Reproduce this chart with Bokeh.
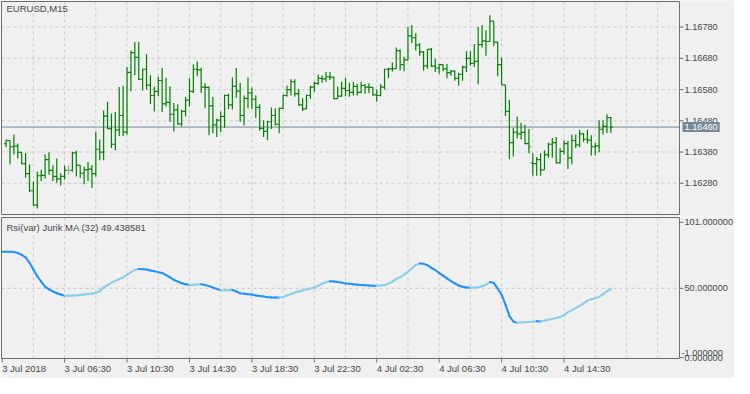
from bokeh.plotting import figure
from bokeh.models import Range1d, Label
from bokeh.core.properties import value
from bokeh.layouts import column
from bokeh.embed import file_html
from bokeh.resources import INLINE

# ---------------- data (EURUSD M15, bars 3 Jul 02:45 .. 4 Jul 17:30) ----------------
bar_index = list(range(1, 157))

open_ = [1.16407, 1.16417, 1.16397, 1.16399, 1.16379, 1.16343, 1.16311, 1.16256, 1.16210, 1.16304,
         1.16305, 1.16356, 1.16321, 1.16302, 1.16294, 1.16302, 1.16321, 1.16321, 1.16377, 1.16338,
         1.16312, 1.16323, 1.16325, 1.16311, 1.16389, 1.16380, 1.16495, 1.16455, 1.16405, 1.16451,
         1.16497, 1.16444, 1.16635, 1.16698, 1.16683, 1.16613, 1.16645, 1.16594, 1.16561, 1.16574,
         1.16609, 1.16534, 1.16539, 1.16501, 1.16515, 1.16470, 1.16510, 1.16546, 1.16574, 1.16645,
         1.16643, 1.16588, 1.16587, 1.16528, 1.16467, 1.16482, 1.16494, 1.16561, 1.16531, 1.16590,
         1.16575, 1.16497, 1.16552, 1.16569, 1.16549, 1.16523, 1.16456, 1.16446, 1.16477, 1.16497,
         1.16469, 1.16520, 1.16561, 1.16580, 1.16605, 1.16567, 1.16531, 1.16518, 1.16561, 1.16588,
         1.16600, 1.16616, 1.16614, 1.16621, 1.16620, 1.16551, 1.16559, 1.16584, 1.16577, 1.16571,
         1.16590, 1.16571, 1.16593, 1.16588, 1.16587, 1.16563, 1.16561, 1.16588, 1.16645, 1.16646,
         1.16647, 1.16705, 1.16660, 1.16675, 1.16752, 1.16746, 1.16722, 1.16701, 1.16656, 1.16709,
         1.16655, 1.16649, 1.16660, 1.16646, 1.16634, 1.16639, 1.16616, 1.16629, 1.16652, 1.16680,
         1.16664, 1.16670, 1.16724, 1.16736, 1.16734, 1.16799, 1.16732, 1.16660, 1.16595, 1.16510,
         1.16410, 1.16444, 1.16438, 1.16443, 1.16407, 1.16345, 1.16343, 1.16356, 1.16323, 1.16372,
         1.16405, 1.16410, 1.16345, 1.16382, 1.16407, 1.16361, 1.16417, 1.16403, 1.16438, 1.16421,
         1.16418, 1.16397, 1.16400, 1.16453, 1.16462, 1.16490]

high = [1.16420, 1.16417, 1.16436, 1.16407, 1.16379, 1.16377, 1.16340, 1.16286, 1.16318, 1.16323,
        1.16372, 1.16379, 1.16338, 1.16359, 1.16312, 1.16336, 1.16337, 1.16381, 1.16384, 1.16338,
        1.16333, 1.16348, 1.16338, 1.16446, 1.16420, 1.16513, 1.16541, 1.16503, 1.16508, 1.16588,
        1.16592, 1.16652, 1.16705, 1.16732, 1.16732, 1.16647, 1.16693, 1.16626, 1.16590, 1.16621,
        1.16649, 1.16618, 1.16590, 1.16537, 1.16533, 1.16515, 1.16556, 1.16616, 1.16660, 1.16670,
        1.16650, 1.16600, 1.16590, 1.16556, 1.16487, 1.16510, 1.16564, 1.16567, 1.16619, 1.16649,
        1.16602, 1.16561, 1.16619, 1.16587, 1.16561, 1.16533, 1.16482, 1.16479, 1.16523, 1.16520,
        1.16522, 1.16564, 1.16592, 1.16613, 1.16613, 1.16582, 1.16552, 1.16564, 1.16592, 1.16605,
        1.16628, 1.16626, 1.16636, 1.16636, 1.16621, 1.16590, 1.16605, 1.16618, 1.16602, 1.16605,
        1.16598, 1.16605, 1.16598, 1.16600, 1.16588, 1.16580, 1.16598, 1.16646, 1.16650, 1.16667,
        1.16715, 1.16708, 1.16685, 1.16780, 1.16787, 1.16760, 1.16729, 1.16703, 1.16710, 1.16713,
        1.16679, 1.16662, 1.16660, 1.16662, 1.16643, 1.16641, 1.16634, 1.16657, 1.16703, 1.16703,
        1.16726, 1.16780, 1.16787, 1.16770, 1.16818, 1.16799, 1.16732, 1.16683, 1.16595, 1.16547,
        1.16458, 1.16494, 1.16474, 1.16467, 1.16454, 1.16376, 1.16364, 1.16376, 1.16386, 1.16410,
        1.16425, 1.16428, 1.16392, 1.16417, 1.16415, 1.16436, 1.16436, 1.16451, 1.16441, 1.16451,
        1.16434, 1.16410, 1.16482, 1.16482, 1.16501, 1.16492]

low = [1.16395, 1.16341, 1.16372, 1.16359, 1.16341, 1.16298, 1.16251, 1.16208, 1.16199, 1.16287,
       1.16295, 1.16307, 1.16287, 1.16282, 1.16273, 1.16292, 1.16309, 1.16317, 1.16302, 1.16297,
       1.16277, 1.16287, 1.16265, 1.16302, 1.16354, 1.16354, 1.16454, 1.16393, 1.16386, 1.16431,
       1.16431, 1.16436, 1.16575, 1.16626, 1.16611, 1.16577, 1.16580, 1.16534, 1.16510, 1.16559,
       1.16508, 1.16526, 1.16477, 1.16446, 1.16467, 1.16462, 1.16494, 1.16526, 1.16569, 1.16623,
       1.16569, 1.16520, 1.16434, 1.16440, 1.16428, 1.16444, 1.16458, 1.16518, 1.16516, 1.16554,
       1.16477, 1.16465, 1.16520, 1.16518, 1.16489, 1.16448, 1.16428, 1.16418, 1.16454, 1.16465,
       1.16440, 1.16518, 1.16557, 1.16561, 1.16557, 1.16528, 1.16511, 1.16518, 1.16551, 1.16573,
       1.16595, 1.16602, 1.16605, 1.16611, 1.16549, 1.16551, 1.16557, 1.16559, 1.16557, 1.16561,
       1.16561, 1.16569, 1.16567, 1.16569, 1.16561, 1.16541, 1.16559, 1.16580, 1.16616, 1.16638,
       1.16647, 1.16641, 1.16639, 1.16674, 1.16729, 1.16705, 1.16688, 1.16641, 1.16647, 1.16652,
       1.16636, 1.16631, 1.16639, 1.16616, 1.16624, 1.16608, 1.16593, 1.16608, 1.16636, 1.16657,
       1.16652, 1.16597, 1.16715, 1.16688, 1.16732, 1.16719, 1.16623, 1.16595, 1.16495, 1.16357,
       1.16366, 1.16424, 1.16420, 1.16405, 1.16376, 1.16304, 1.16304, 1.16304, 1.16323, 1.16362,
       1.16362, 1.16343, 1.16343, 1.16372, 1.16326, 1.16341, 1.16393, 1.16395, 1.16412, 1.16407,
       1.16369, 1.16369, 1.16379, 1.16436, 1.16441, 1.16441]

close = [1.16417, 1.16397, 1.16399, 1.16379, 1.16343, 1.16311, 1.16256, 1.16210, 1.16304, 1.16305,
         1.16356, 1.16321, 1.16302, 1.16294, 1.16302, 1.16321, 1.16321, 1.16377, 1.16338, 1.16312,
         1.16323, 1.16325, 1.16311, 1.16389, 1.16380, 1.16495, 1.16455, 1.16405, 1.16451, 1.16497,
         1.16444, 1.16635, 1.16698, 1.16683, 1.16613, 1.16645, 1.16594, 1.16561, 1.16574, 1.16609,
         1.16534, 1.16539, 1.16501, 1.16515, 1.16470, 1.16510, 1.16546, 1.16574, 1.16645, 1.16643,
         1.16588, 1.16587, 1.16528, 1.16467, 1.16482, 1.16494, 1.16561, 1.16531, 1.16590, 1.16575,
         1.16497, 1.16552, 1.16569, 1.16549, 1.16523, 1.16456, 1.16446, 1.16477, 1.16497, 1.16469,
         1.16520, 1.16561, 1.16580, 1.16605, 1.16567, 1.16531, 1.16518, 1.16561, 1.16588, 1.16600,
         1.16616, 1.16614, 1.16621, 1.16620, 1.16551, 1.16559, 1.16584, 1.16577, 1.16571, 1.16590,
         1.16571, 1.16593, 1.16588, 1.16587, 1.16563, 1.16561, 1.16588, 1.16645, 1.16646, 1.16647,
         1.16705, 1.16660, 1.16675, 1.16752, 1.16746, 1.16722, 1.16701, 1.16656, 1.16709, 1.16655,
         1.16649, 1.16660, 1.16646, 1.16634, 1.16639, 1.16616, 1.16629, 1.16652, 1.16680, 1.16664,
         1.16670, 1.16724, 1.16736, 1.16734, 1.16799, 1.16732, 1.16660, 1.16595, 1.16510, 1.16410,
         1.16444, 1.16438, 1.16443, 1.16407, 1.16397, 1.16343, 1.16356, 1.16323, 1.16372, 1.16405,
         1.16410, 1.16345, 1.16382, 1.16407, 1.16361, 1.16417, 1.16403, 1.16438, 1.16421, 1.16418,
         1.16397, 1.16400, 1.16453, 1.16462, 1.16490, 1.16460]

current_price = 1.16460

rsi_index = list(range(0, 157))
rsi_jurik = [78.3, 78.3, 78.3, 78.0, 77.3, 75.9, 73.8, 69.8, 64.5, 59.3,
             55.2, 51.4, 49.2, 47.6, 46.2, 45.2, 44.3, 44.35, 44.4, 44.5,
             44.8, 45.2, 45.6, 46.0, 46.3, 47.8, 50.8, 52.5, 54.3, 55.8,
             57.1, 58.4, 60.5, 62.4, 64.3, 65.0, 64.8, 64.5, 63.8, 63.2,
             62.5, 61.9, 60.2, 58.4, 56.6, 55.2, 53.9, 53.1, 52.6, 52.8,
             53.0, 53.2, 52.6, 51.7, 50.6, 49.6, 48.4, 48.5, 48.6, 48.7,
             47.6, 46.1, 45.8, 45.5, 45.2, 44.5, 44.1, 43.6, 43.2, 43.0,
             42.9, 42.85, 43.2, 44.6, 45.5, 46.8, 47.5, 48.3, 49.1, 49.9,
             50.6, 51.9, 53.5, 54.8, 55.4, 55.2, 54.8, 54.4, 53.8, 53.5,
             53.1, 52.7, 52.5, 52.3, 52.1, 52.0, 51.95, 52.2, 52.6, 53.6,
             55.2, 57.3, 58.7, 60.4, 63.0, 65.3, 68.0, 69.1, 68.9, 67.8,
             65.8, 64.2, 61.8, 59.8, 57.7, 55.6, 53.8, 52.2, 51.2, 50.6,
             50.5, 50.55, 50.8, 51.6, 52.8, 54.9, 54.2, 49.8, 45.1, 37.5,
             28.5, 24.5, 23.3, 23.6, 23.8, 24.0, 24.2, 24.5, 24.4, 25.2,
             25.8, 26.4, 27.0, 27.9, 29.3, 31.5, 33.2, 34.8, 36.5, 38.3,
             40.5, 41.5, 42.4, 43.3, 45.5, 47.6, 49.438581]

time_ticks = [0, 16, 32, 48, 64, 80, 96, 112, 128, 144]
time_labels = ["3 Jul 2018", "3 Jul 06:30", "3 Jul 10:30", "3 Jul 14:30", "3 Jul 18:30",
               "3 Jul 22:30", "4 Jul 02:30", "4 Jul 06:30", "4 Jul 10:30", "4 Jul 14:30"]
vgrid_ticks = [8, 16, 24, 32, 40, 48, 56, 64, 72, 80, 88, 96, 104, 112, 120, 128,
               136, 144, 152, 160, 168]
price_ticks = [1.16280, 1.16380, 1.16480, 1.16580, 1.16680, 1.16780]
rsi_level = 50.0
rsi_ticks = [101.0, 50.0, -3.5]
rsi_tick_labels = ["101.000000", "50.000000", "0.000000"]
rsi_min_label = "-1.000000"
symbol_title = "EURUSD,M15"
indicator_title = "Rsi(var) Jurik MA (32) 49.438581"

# ---------------- style / geometry ----------------
FONT = "Liberation Sans"
FS = "9.5px"
FS_AX = "9.2px"
TXT = "#474747"
BG = "#f0f0f0"
FRAME = "#6e6e6e"
GRIDC = "#cbcbcb"
GREEN = "#008000"
DOJI = "#a0a0a0"
UP = "#87ceeb"
DOWN = "#1e90ff"
SLATE = "#778899"

W = 734
H_MAIN, H_IND = 216, 162
FL, FR = 1, 679                 # chart-window left / right edge (px)
X0, X1 = -0.175, 173.6          # chart-window bounds in bar units
ppb = (FR - FL) / (X1 - X0)
XA = X0 - FL / ppb
XB = XA + W / ppb
x_range = Range1d(XA, XB)

PY0, PY1 = 1.16180, 1.16862     # price window
ppy = (214 - 1) / (PY1 - PY0)
main_y = Range1d(PY0 - (H_MAIN - 214) / ppy, PY1 + 1 / ppy)

RY0, RY1 = -4.2, 104.7          # indicator window
rpy = (142 - 1) / (RY1 - RY0)
ind_y = Range1d(RY0 - (H_IND - 142) / rpy, RY1 + 1 / rpy)


def make_fig(h, yr):
    f = figure(width=W, height=h, x_range=x_range, y_range=yr,
               output_backend="svg", toolbar_location=None,
               x_axis_location=None, y_axis_location=None, min_border=0,
               background_fill_color=BG, border_fill_color=BG, outline_line_color=None)
    f.xgrid.visible = False
    f.ygrid.visible = False
    return f


def window(f, y0, y1, yperpx):
    # vertical dashed grid
    f.segment(x0=vgrid_ticks, x1=vgrid_ticks, y0=[y0] * len(vgrid_ticks), y1=[y1] * len(vgrid_ticks),
              line_color=GRIDC, line_dash="3 3", line_width=1)


def right_scale(f, ticks, labels, font_size):
    n = len(ticks)
    f.segment(x0=[X1] * n, x1=[X1 + 4 / ppb] * n, y0=ticks, y1=ticks, line_color=FRAME, line_width=1)
    f.text(x=[X1 + 5 / ppb] * n, y=ticks, text=labels, text_font=value(FONT),
           text_font_size=font_size, text_color=TXT, text_baseline="middle", text_align="left")


# ---------------- main price window ----------------
p = make_fig(H_MAIN, main_y)
window(p, PY0, PY1, ppy)
n = len(price_ticks)
p.segment(x0=[X0] * n, x1=[X1] * n, y0=price_ticks, y1=price_ticks,
          line_color=GRIDC, line_dash="3 3", line_width=1)
p.segment(x0=[X0], x1=[X1], y0=[current_price], y1=[current_price], line_color=SLATE, line_width=1)

bar_colors = [DOJI if o == c else GREEN for o, c in zip(open_, close)]
p.segment(x0=bar_index, y0=low, x1=bar_index, y1=high, line_color=bar_colors, line_width=1.2)
p.segment(x0=[i - 0.5 for i in bar_index], y0=open_, x1=bar_index, y1=open_,
          line_color=bar_colors, line_width=1.2)
p.segment(x0=bar_index, y0=close, x1=[i + 0.5 for i in bar_index], y1=close,
          line_color=bar_colors, line_width=1.2)

p.quad(left=[X0], right=[X1], bottom=[PY0], top=[PY1], fill_color=None, line_color=FRAME, line_width=1)
right_scale(p, price_ticks, ["%.5f" % t for t in price_ticks], FS_AX)
p.add_layout(Label(x=X1 + 3 / ppb, y=current_price, text="%.5f" % current_price,
                   text_font=FONT, text_font_size=FS_AX, text_color="white",
                   text_baseline="middle", text_align="left",
                   background_fill_color=SLATE, padding=2))
p.add_layout(Label(x=X0 + 5 / ppb, y=PY1 - 7 / ppy, text=symbol_title,
                   text_font=FONT, text_font_size=FS, text_color=TXT,
                   text_baseline="middle", text_align="left"))

# ---------------- indicator window ----------------
q = make_fig(H_IND, ind_y)
window(q, RY0, RY1, rpy)
q.segment(x0=[X0], x1=[X1], y0=[rsi_level], y1=[rsi_level],
          line_color="#c4c4c4", line_dash="3 3", line_width=1)

seg_col = [UP if b > a else DOWN for a, b in zip(rsi_jurik[:-1], rsi_jurik[1:])]
q.segment(x0=rsi_index[:-1], y0=rsi_jurik[:-1], x1=rsi_index[1:], y1=rsi_jurik[1:],
          line_color=seg_col, line_width=2, line_cap="round")

q.quad(left=[X0], right=[X1], bottom=[RY0], top=[RY1], fill_color=None, line_color=FRAME, line_width=1)
right_scale(q, rsi_ticks, rsi_tick_labels, FS_AX)
q.add_layout(Label(x=X1 + 2 / ppb, y=0.4, text=rsi_min_label, text_font=FONT,
                   text_font_size=FS_AX, text_color=TXT, text_baseline="middle", text_align="left"))
q.add_layout(Label(x=X0 + 5 / ppb, y=RY1 - 9.5 / rpy, text=indicator_title,
                   text_font=FONT, text_font_size=FS, text_color=TXT,
                   text_baseline="middle", text_align="left"))

nt = len(time_ticks)
q.segment(x0=time_ticks, x1=time_ticks, y0=[RY0] * nt, y1=[RY0 - 4 / rpy] * nt,
          line_color=FRAME, line_width=1)
q.text(x=time_ticks, y=[RY0 - 10 / rpy] * nt, text=time_labels, text_font=value(FONT),
       text_font_size=FS, text_color=TXT, text_baseline="middle", text_align="left")

layout = column(p, q, spacing=0)
open("out.html", "w").write(file_html(layout, INLINE))
